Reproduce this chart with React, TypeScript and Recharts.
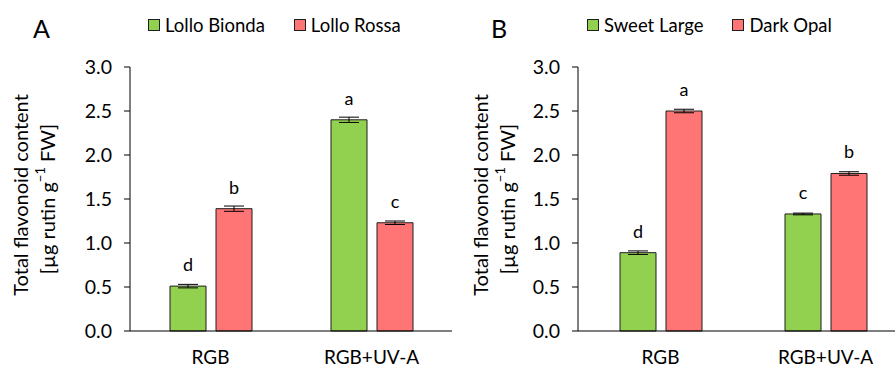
import React from 'react';
import { BarChart, Bar, XAxis, YAxis, ErrorBar, LabelList } from 'recharts';

const categories = ['RGB', 'RGB+UV-A'];
const yTicks = [0, 0.5, 1, 1.5, 2, 2.5, 3];

// Panel A
const lolloBionda = [0.51, 2.4];
const lolloBiondaErr = [0.02, 0.03];
const lolloBiondaLetters = ['d', 'a'];
const lolloRossa = [1.39, 1.23];
const lolloRossaErr = [0.03, 0.02];
const lolloRossaLetters = ['b', 'c'];

// Panel B
const sweetLarge = [0.89, 1.33];
const sweetLargeErr = [0.02, 0.01];
const sweetLargeLetters = ['d', 'c'];
const darkOpal = [2.5, 1.79];
const darkOpalErr = [0.02, 0.02];
const darkOpalLetters = ['a', 'b'];

const GREEN = '#92D050';
const RED = '#FF7575';
const OUTLINE = '#1e1e1e';
const FONT = 'Lato, "Open Sans", sans-serif';

function buildData(v1: number[], e1: number[], l1: string[], v2: number[], e2: number[], l2: string[]) {
  return categories.map((c, i) => ({
    cat: c,
    s1: v1[i], e1: e1[i], l1: l1[i],
    s2: v2[i], e2: e2[i], l2: l2[i],
  }));
}

const YLabel = (props: any) => {
  const { viewBox, x1, x2 } = props;
  const cy = viewBox.y + viewBox.height / 2;
  return (
    <g>
      <text x={x1} y={cy - 4} transform={`rotate(-90 ${x1} ${cy - 4})`} textAnchor="middle" dominantBaseline="central" fontSize={20} fill="#000" fontFamily={FONT}>
        Total flavonoid content
      </text>
      <text x={x2} y={cy} transform={`rotate(-90 ${x2} ${cy})`} textAnchor="middle" dominantBaseline="central" fontSize={20} fill="#000" fontFamily={FONT}>
        [µg rutin g<tspan fontSize={13} dy={-7}>−1</tspan><tspan dy={7}> FW]</tspan>
      </text>
    </g>
  );
};

function LegendBox(props: { names: string[]; left: number }) {
  const { names, left } = props;
  return (
    <div style={{ position: 'absolute', left, top: 13, display: 'flex', alignItems: 'center', fontFamily: FONT, fontSize: 18.5, lineHeight: '24px', color: '#000', whiteSpace: 'nowrap' }}>
      {names.map((n, i) => (
        <div key={n} style={{ display: 'flex', alignItems: 'center', marginRight: i === 0 ? 29 : 0 }}>
          <div style={{ width: 10, height: 10, background: i === 0 ? GREEN : RED, border: `1px solid ${OUTLINE}`, marginRight: 5 }} />
          <span>{n}</span>
        </div>
      ))}
    </div>
  );
}

function Panel(props: { data: any[]; names: string[]; width: number; yWidth: number; right: number; lx1: number; lx2: number }) {
  const { data, names, width, yWidth, right, lx1, lx2 } = props;
  return (
    <BarChart width={width} height={369} data={data} margin={{ top: 67, right, bottom: 8, left: 0 }} barGap={10} barSize={36} style={{ fontFamily: FONT }}>
      <XAxis dataKey="cat" axisLine={{ stroke: '#000' }} tickLine={false} tickSize={0} tickMargin={20} height={30} tick={{ fill: '#000', fontSize: 19, fontFamily: FONT }} />
      <YAxis
        domain={[0, 3]}
        ticks={yTicks}
        interval={0}
        width={yWidth}
        axisLine={{ stroke: '#000' }}
        tickLine={{ stroke: '#000' }}
        tickSize={6}
        tickMargin={12}
        tickFormatter={(v: number) => v.toFixed(1)}
        tick={{ fill: '#000', fontSize: 19.5, fontFamily: FONT }}
        label={<YLabel x1={lx1} x2={lx2} />}
      />
      <Bar dataKey="s1" name={names[0]} fill={GREEN} stroke={OUTLINE} strokeWidth={1} isAnimationActive={false}>
        <ErrorBar dataKey="e1" width={10} stroke="#000" strokeWidth={1} />
        <LabelList dataKey="l1" position="top" offset={15} fill="#000" fontSize={18} fontFamily={FONT} />
      </Bar>
      <Bar dataKey="s2" name={names[1]} fill={RED} stroke={OUTLINE} strokeWidth={1} isAnimationActive={false}>
        <ErrorBar dataKey="e2" width={10} stroke="#000" strokeWidth={1} />
        <LabelList dataKey="l2" position="top" offset={15} fill="#000" fontSize={18} fontFamily={FONT} />
      </Bar>
    </BarChart>
  );
}

export default function App() {
  const dataA = buildData(lolloBionda, lolloBiondaErr, lolloBiondaLetters, lolloRossa, lolloRossaErr, lolloRossaLetters);
  const dataB = buildData(sweetLarge, sweetLargeErr, sweetLargeLetters, darkOpal, darkOpalErr, darkOpalLetters);
  return (
    <div style={{ position: 'absolute', left: 0, top: 0, width: 895, height: 369, overflow: 'hidden', background: '#fff', fontFamily: FONT }}>
      <div style={{ position: 'absolute', left: 0, top: 0 }}>
        <Panel data={dataA} names={['Lollo Bionda', 'Lollo Rossa']} width={455} yWidth={130} right={3} lx1={20} lx2={47} />
      </div>
      <div style={{ position: 'absolute', left: 450, top: 0 }}>
        <Panel data={dataB} names={['Sweet Large', 'Dark Opal']} width={460} yWidth={128} right={2} lx1={30} lx2={57} />
      </div>
      <LegendBox names={['Lollo Bionda', 'Lollo Rossa']} left={148} />
      <LegendBox names={['Sweet Large', 'Dark Opal']} left={587} />
      <div style={{ position: 'absolute', left: 33, top: 13, fontSize: 25, lineHeight: '30px', color: '#000', fontFamily: FONT }}>A</div>
      <div style={{ position: 'absolute', left: 491, top: 13, fontSize: 25, lineHeight: '30px', color: '#000', fontFamily: FONT }}>B</div>
    </div>
  );
}
